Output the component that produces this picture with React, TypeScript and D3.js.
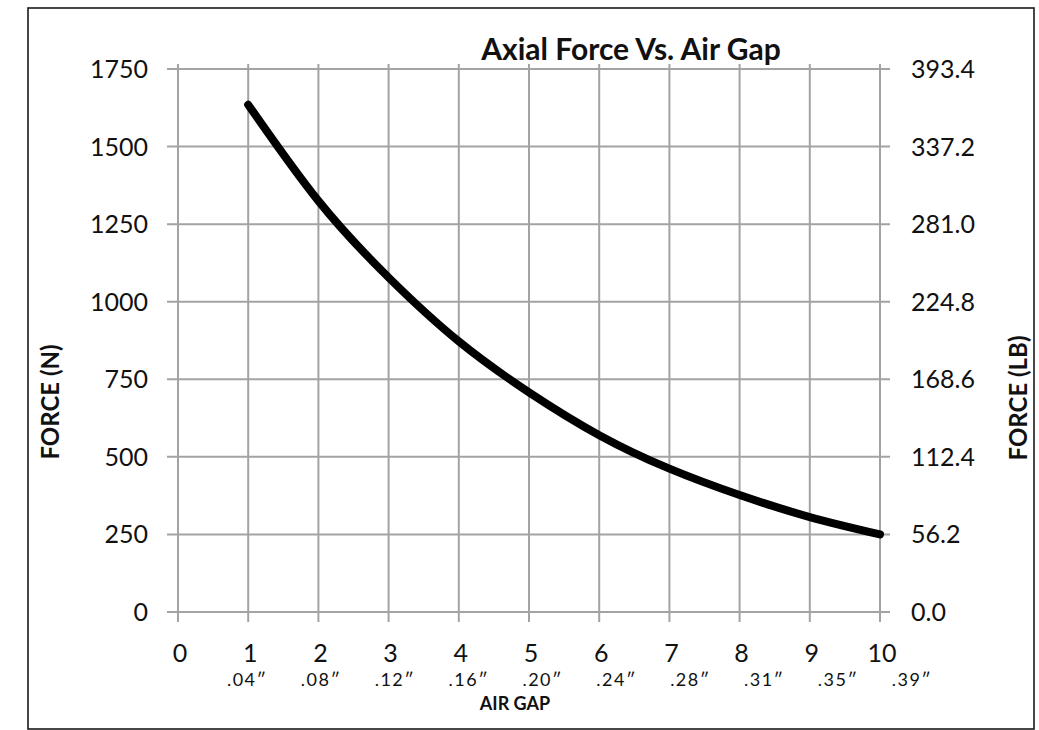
import * as d3 from 'd3';
import { useRef, useEffect } from 'react';

// air gap step (x axis) and the force, in newtons
const gapSteps = [1, 2, 3, 4, 5, 6, 7, 8, 9, 10];
const forceN = [1635, 1325, 1078, 872, 708, 570, 462, 377, 306, 250];

// tick labels
const xTicks = [0, 1, 2, 3, 4, 5, 6, 7, 8, 9, 10];
const gapInches = ['.04″', '.08″', '.12″', '.16″', '.20″', '.24″', '.28″', '.31″', '.35″', '.39″'];
const leftTicks = [0, 250, 500, 750, 1000, 1250, 1500, 1750];
const rightTicks = [0, 56.2, 112.4, 168.6, 224.8, 281.0, 337.2, 393.4];

const FONT = 'Lato, "Open Sans", sans-serif';

const AxialForceChart = () => {
    const svgRef = useRef<SVGSVGElement>(null);

    useEffect(() => {
        if (!svgRef.current) return;
        const svg = d3.select(svgRef.current);
        svg.selectAll('*').remove();

        const W = 1039, H = 730;
        const left = 178, right = 880, top = 69, bottom = 612;

        const x = d3.scaleLinear().domain([0, 10]).range([left, right]);
        const y = d3.scaleLinear().domain([0, 1750]).range([bottom, top]);
        const yLb = d3.scaleLinear().domain([0, 393.4]).range([bottom, top]);
        // the inch labels sit a bit wider than the grid in the original
        const xIn = d3.scaleLinear().domain([1, 10]).range([x(1) - 1, x(10) + 32]);

        svg.attr('width', W).attr('height', H);

        svg.append('rect')
            .attr('width', W).attr('height', H)
            .attr('fill', '#fff');

        // frame
        svg.append('rect')
            .attr('x', 28).attr('y', 8)
            .attr('width', 1006).attr('height', 721)
            .attr('fill', 'none')
            .attr('stroke', '#1a1a1a')
            .attr('stroke-width', 1.6);

        const grid = svg.append('g')
            .attr('stroke', '#a3a3a3')
            .attr('stroke-width', 2);

        grid.selectAll('.hgrid')
            .data(leftTicks)
            .enter()
            .append('line')
            .attr('x1', x(0) - 11).attr('x2', x(10) + 10)
            .attr('y1', d => y(d)).attr('y2', d => y(d));

        grid.selectAll('.vgrid')
            .data(xTicks)
            .enter()
            .append('line')
            .attr('x1', d => x(d)).attr('x2', d => x(d))
            .attr('y1', top - 5).attr('y2', bottom + 10);

        // left ticks
        svg.append('g')
            .selectAll('text')
            .data(leftTicks)
            .enter()
            .append('text')
            .attr('x', 148)
            .attr('y', d => y(d))
            .attr('dy', '0.36em')
            .attr('text-anchor', 'end')
            .style('font', `25px ${FONT}`)
            .attr('fill', '#111')
            .text(d => String(d));

        // right ticks
        svg.append('g')
            .selectAll('text')
            .data(rightTicks)
            .enter()
            .append('text')
            .attr('x', 911)
            .attr('y', d => yLb(d))
            .attr('dy', '0.36em')
            .attr('text-anchor', 'start')
            .style('font', `25px ${FONT}`)
            .attr('fill', '#111')
            .text(d => d3.format('.1f')(d));

        // x ticks
        svg.append('g')
            .selectAll('text')
            .data(xTicks)
            .enter()
            .append('text')
            .attr('x', d => x(d) + 2)
            .attr('y', 662)
            .attr('text-anchor', 'middle')
            .style('font', `25px ${FONT}`)
            .attr('fill', '#111')
            .text(d => String(d));

        svg.append('g')
            .selectAll('text')
            .data(gapInches)
            .enter()
            .append('text')
            .attr('x', (d, i) => xIn(gapSteps[i]))
            .attr('y', 686)
            .attr('text-anchor', 'middle')
            .style('font', `18px ${FONT}`)
            .style('letter-spacing', '1.5px')
            .attr('fill', '#111')
            .text(d => d);

        // the curve
        const line = d3.line<number>()
            .x((d, i) => x(gapSteps[i]))
            .y(d => y(d))
            .curve(d3.curveNatural);

        svg.append('path')
            .datum(forceN)
            .attr('d', line)
            .attr('fill', 'none')
            .attr('stroke', '#000')
            .attr('stroke-width', 8)
            .attr('stroke-linecap', 'round')
            .attr('stroke-linejoin', 'round');

        // titles
        svg.append('text')
            .attr('x', 631).attr('y', 60)
            .attr('text-anchor', 'middle')
            .style('font', `bold 30px ${FONT}`)
            .attr('fill', '#111')
            .text('Axial Force Vs. Air Gap');

        svg.append('text')
            .attr('x', 515).attr('y', 710)
            .attr('text-anchor', 'middle')
            .style('font', `bold 18px ${FONT}`)
            .attr('fill', '#111')
            .text('AIR GAP');

        svg.append('text')
            .attr('transform', 'translate(59,402) rotate(-90)')
            .attr('text-anchor', 'middle')
            .style('font', `bold 24px ${FONT}`)
            .attr('fill', '#111')
            .text('FORCE (N)');

        svg.append('text')
            .attr('transform', 'translate(1027,398) rotate(-90)')
            .attr('text-anchor', 'middle')
            .style('font', `bold 24px ${FONT}`)
            .attr('fill', '#111')
            .text('FORCE (LB)');
    }, []);

    return <svg ref={svgRef} style={{ position: 'absolute', left: 0, top: 0, display: 'block' }} />;
};

export default function App() {
    return <AxialForceChart />;
}
